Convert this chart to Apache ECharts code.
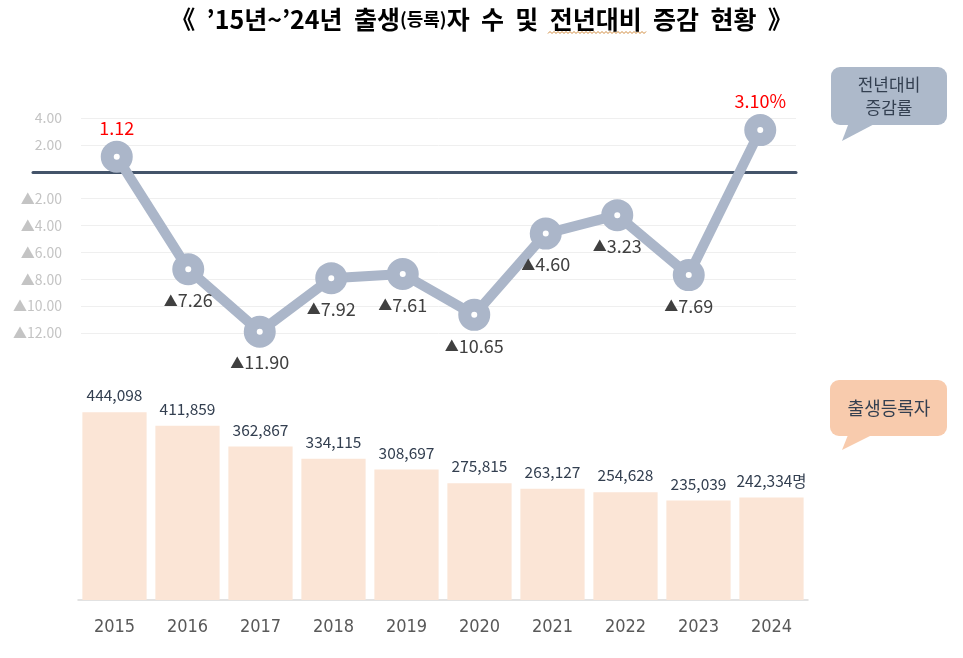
<!DOCTYPE html>
<html>
<head>
<meta charset="utf-8">
<script src="https://cdn.jsdelivr.net/npm/echarts@6/dist/echarts.min.js"></script>
<style>
html,body{margin:0;padding:0;background:#fff;}
#main{width:963px;height:658px;}
</style>
</head>
<body>
<div id="main"></div>
<script>
const years = ['2015','2016','2017','2018','2019','2020','2021','2022','2023','2024'];
const births = [444098, 411859, 362867, 334115, 308697, 275815, 263127, 254628, 235039, 242334];
const changeRate = [1.12, -7.26, -11.90, -7.92, -7.61, -10.65, -4.60, -3.23, -7.69, 3.10];
const rateTicks = { min: -12, max: 4, interval: 2 };

const FONT = '"Noto Sans CJK KR", "Noto Sans", sans-serif';
const chart = echarts.init(document.getElementById('main'));

function fmtNum(v){ return v.toLocaleString('en-US'); }

const lineData = changeRate.map((v, i) => {
  const pos = v >= 0;
  let text;
  if (pos) text = '{r|' + v.toFixed(2) + (i === changeRate.length - 1 ? '%' : '') + '}';
  else text = '{t|▲}{n|' + Math.abs(v).toFixed(2) + '}';
  return {
    value: v,
    label: {
      show: true,
      position: pos ? 'top' : 'bottom',
      distance: pos ? 4 : 6,
      formatter: text
    }
  };
});

const option = {
  animation: false,
  backgroundColor: '#ffffff',
  title: {
    text: '《  ’15년~’24년  출생{s|(등록)}자  수  및  전년대비  증감  현황  》',
    left: 'center',
    top: 2,
    textStyle: {
      fontFamily: FONT, fontWeight: 'bold', fontSize: 25, color: '#000',
      rich: { s: { fontFamily: FONT, fontWeight: 'bold', fontSize: 18, color: '#000' } }
    }
  },
  grid: [
    { left: 81, right: 167, top: 118, height: 215 },
    { left: 33, right: 167, top: 118, height: 215 },
    { left: 78, right: 155, top: 388.5, bottom: 58 }
  ],
  xAxis: [
    { type: 'category', gridIndex: 0, data: years, boundaryGap: true,
      axisLine: { show: false }, axisTick: { show: false }, axisLabel: { show: false } },
    { type: 'category', gridIndex: 1, data: years, boundaryGap: true,
      axisLine: { show: true, onZero: true, lineStyle: { color: '#44546a', width: 3 } },
      axisTick: { show: false }, axisLabel: { show: false } },
    { type: 'category', gridIndex: 2, data: years,
      axisLine: { show: true, lineStyle: { color: '#d9d9d9', width: 1.5 } },
      axisTick: { show: false },
      axisLabel: { margin: 18, fontSize: 18, color: '#595959',
        fontFamily: '"Liberation Sans Narrow", "DejaVu Sans Condensed", sans-serif' } }
  ],
  yAxis: [
    { type: 'value', gridIndex: 0, min: rateTicks.min, max: rateTicks.max, interval: rateTicks.interval,
      axisLine: { show: false }, axisTick: { show: false },
      splitLine: { lineStyle: { color: '#efefef', width: 1 } },
      axisLabel: { margin: 19, fontSize: 14, color: '#c4c4c4', fontFamily: FONT,
        formatter: v => v === 0 ? '' : (v < 0 ? '▲' + Math.abs(v).toFixed(2) : v.toFixed(2)) } },
    { type: 'value', gridIndex: 1, min: rateTicks.min, max: rateTicks.max, interval: rateTicks.interval,
      show: false },
    { type: 'value', gridIndex: 2, min: 0, max: 500000, show: false }
  ],
  series: [
    { type: 'bar', xAxisIndex: 2, yAxisIndex: 2, data: births, barCategoryGap: '12%',
      itemStyle: { color: '#fbe5d6' },
      label: { show: true, position: 'top', distance: 9, fontSize: 15.5, color: '#333f50', fontFamily: FONT,
        formatter: p => fmtNum(p.value) + (p.dataIndex === births.length - 1 ? '명' : '') } },
    { type: 'line', xAxisIndex: 0, yAxisIndex: 0, data: lineData, z: 5,
      lineStyle: { color: '#abb6c9', width: 10 },
      symbol: 'circle', symbolSize: 19,
      itemStyle: { color: '#ffffff', borderColor: '#abb6c9', borderWidth: 13 },
      label: {
        fontFamily: FONT,
        rich: {
          r: { color: '#ff0000', fontSize: 18, fontFamily: FONT },
          t: { color: '#404040', fontSize: 14, fontFamily: FONT },
          n: { color: '#404040', fontSize: 18, fontFamily: FONT }
        }
      }
    }
  ],
  graphic: [
    { type: 'polyline', shape: { points: (function(){ const p=[]; for(let x=548,k=0;x<=646;x+=2,k++){p.push([x, k%2?31.5:33.5]);} return p; })() },
      style: { stroke: '#d08a3c', lineWidth: 1, fill: null } },
    { type: 'group', children: [
      { type: 'polygon', shape: { points: [[850,120],[842,141],[882,120]] }, style: { fill: '#adb9ca' } },
      { type: 'rect', shape: { x: 831, y: 67, width: 116, height: 58, r: 9 }, style: { fill: '#adb9ca' } },
      { type: 'text', x: 889, y: 96, style: { text: '전년대비\n증감률', fill: '#333f50', fontSize: 17, lineHeight: 23,
        fontFamily: FONT, align: 'center', verticalAlign: 'middle' } }
    ]},
    { type: 'group', children: [
      { type: 'polygon', shape: { points: [[850,430],[842,450],[882,430]] }, style: { fill: '#f8cbad' } },
      { type: 'rect', shape: { x: 830, y: 380, width: 117, height: 56, r: 9 }, style: { fill: '#f8cbad' } },
      { type: 'text', x: 889, y: 408, style: { text: '출생등록자', fill: '#333f50', fontSize: 18,
        fontFamily: FONT, align: 'center', verticalAlign: 'middle' } }
    ]}
  ]
};
chart.setOption(option);
</script>
</body>
</html>
